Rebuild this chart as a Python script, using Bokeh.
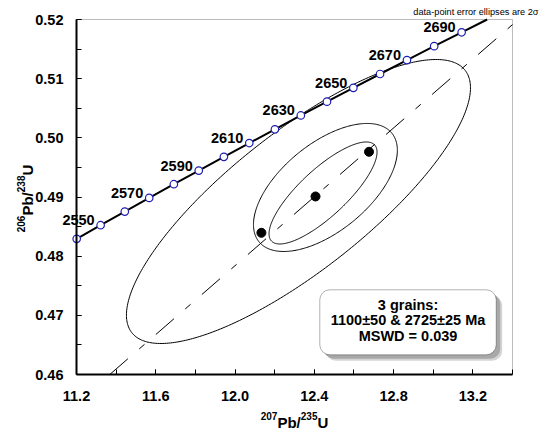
import numpy as np
from bokeh.plotting import figure
from bokeh.models import (FixedTicker, PrintfTickFormatter, Label, LabelSet,
                          ColumnDataSource, BoxAnnotation, Range1d)
from bokeh.core.properties import value
from bokeh.embed import file_html
from bokeh.resources import INLINE

# ---------------- data ----------------
# concordia points (age in Ma, 207Pb/235U, 206Pb/238U)
conc_age = [2540, 2550, 2560, 2570, 2580, 2590, 2600, 2610, 2620,
            2630, 2640, 2650, 2660, 2670, 2680, 2690, 2700]
conc_x = [11.2010, 11.3218, 11.4437, 11.5669, 11.6913, 11.8169, 11.9437,
          12.0718, 12.2012, 12.3319, 12.4638, 12.5970, 12.7316, 12.8675,
          13.0048, 13.1434, 13.2834]
conc_y = [0.48293, 0.48523, 0.48753, 0.48984, 0.49216, 0.49447, 0.49679,
          0.49912, 0.50144, 0.50378, 0.50611, 0.50845, 0.51079, 0.51314,
          0.51549, 0.51784, 0.52019]
label_ages = [2550, 2570, 2590, 2610, 2630, 2650, 2670, 2690]

# discordia through the two intercepts (1100 and 2725 Ma)
disc_age = [1100, 2725]
disc_x = [1.95452, 13.63939]
disc_y = [0.186061, 0.526101]

# grain error ellipses (2 sigma): centre, half-widths, correlation
ell_x = [12.320, 12.456, 12.444]
ell_sx = [0.868, 0.363, 0.2725]
ell_y = [0.48924, 0.49161, 0.49068]
ell_sy = [0.0240, 0.01082, 0.00862]
ell_rho = [0.80, 0.58, 0.80]

# filled data points
pt_x = [12.133, 12.406, 12.676]
pt_y = [0.48395, 0.49009, 0.49764]

# axes
X0, X1, Y0, Y1 = 11.2, 13.4, 0.46, 0.52
x_ticks = [11.2, 11.6, 12.0, 12.4, 12.8, 13.2]
x_minor = [11.2, 11.4, 11.6, 11.8, 12.0, 12.2, 12.4, 12.6, 12.8, 13.0, 13.2, 13.4]
y_ticks = [0.46, 0.47, 0.48, 0.49, 0.50, 0.51, 0.52]
y_minor = [0.46, 0.465, 0.47, 0.475, 0.48, 0.485, 0.49, 0.495, 0.50,
           0.505, 0.51, 0.515, 0.52]

x_title = [("207", True), ("Pb/", False), ("235", True), ("U", False)]
y_title = [("206", True), ("Pb/", False), ("238", True), ("U", False)]
box_lines = ["3 grains:", "1100\u00b150 & 2725\u00b125 Ma", "MSWD = 0.039"]
note_text = "data-point error ellipses are 2\u03c3"

# ---------------- layout (pixels) ----------------
W, H = 539, 431
FL, FT, FR, FB = 76, 19, 512, 374          # plot box inside the canvas
FONT = "Liberation Sans"
BSHIFT = 0.32                               # label baseline correction (em)
SXP = (FR - FL) / (X1 - X0)
SYP = (FB - FT) / (Y1 - Y0)
xr = Range1d(X0 - FL / SXP, X1 + (W - FR) / SXP)
yr = Range1d(Y0 - (H - FB) / SYP, Y1 + FT / SYP)


def dx(px):
    return xr.start + px / SXP


def dy(py):
    return yr.end - py / SYP


p = figure(width=W, height=H, x_range=xr, y_range=yr,
           output_backend="svg", toolbar_location=None, min_border=0)
p.title.visible = False
p.xgrid.grid_line_color = None
p.ygrid.grid_line_color = None
p.outline_line_color = None
p.background_fill_color = "white"
p.border_fill_color = "white"

for ax in (p.xaxis[0], p.yaxis[0]):
    ax.axis_line_width = 2
    ax.axis_line_color = "black"
    ax.major_tick_in = 5
    ax.major_tick_out = 0
    ax.minor_tick_in = 5
    ax.minor_tick_out = 0
    ax.major_tick_line_color = "black"
    ax.minor_tick_line_color = "black"
    ax.major_label_text_font = FONT
    ax.major_label_text_font_style = "bold"
    ax.major_label_text_font_size = "14.5px"
    ax.major_label_text_color = "black"

p.xaxis.ticker = FixedTicker(ticks=x_ticks, minor_ticks=x_minor)
p.yaxis.ticker = FixedTicker(ticks=y_ticks, minor_ticks=y_minor)
p.xaxis.formatter = PrintfTickFormatter(format="%.1f")
p.yaxis.formatter = PrintfTickFormatter(format="%.2f")
p.xaxis.major_label_standoff = 16
p.yaxis.major_label_standoff = 13
p.xaxis.fixed_location = Y0
p.yaxis.fixed_location = X0
p.xaxis.bounds = (X0, X1)
p.yaxis.bounds = (Y0, Y1)

# plot box border (top / right)
p.add_layout(BoxAnnotation(left=X0, right=X1, bottom=Y0, top=Y1, fill_color=None,
                           line_color="#222222", line_width=1, level="underlay"))

# ellipses
t = np.linspace(0, 2 * np.pi, 361)
for cx, sx, cy, sy, r in zip(ell_x, ell_sx, ell_y, ell_sy, ell_rho):
    ex = cx + sx * np.cos(t)
    ey = cy + sy * (r * np.cos(t) + np.sqrt(1 - r * r) * np.sin(t))
    p.line(ex, ey, line_color="black", line_width=1)

# discordia (clipped to the plot box)
dsx = np.array(disc_x)
dsy = np.array(disc_y)
slope = (dsy[1] - dsy[0]) / (dsx[1] - dsx[0])
xa = max(X0, dsx[0] + (Y0 - dsy[0]) / slope)
xb = min(X1, dsx[0] + (Y1 - dsy[0]) / slope)
p.line([xa, xb], [dsy[0] + slope * (xa - dsx[0]), dsy[0] + slope * (xb - dsx[0])],
       line_color="black", line_width=1, line_dash="24 15 7 15")

# concordia (clipped at the top of the plot box)
cxs = np.array(conc_x)
cys = np.array(conc_y)
inside = cys <= Y1
k = np.argmax(~inside)
x_top = cxs[k - 1] + (Y1 - cys[k - 1]) * (cxs[k] - cxs[k - 1]) / (cys[k] - cys[k - 1])
p.line(list(cxs[inside]) + [x_top], list(cys[inside]) + [Y1],
       line_color="black", line_width=2)
p.scatter(cxs[inside], cys[inside], size=7.5, marker="circle", fill_color="white",
          line_color="#1e1eb4", line_width=1.2)

# data points
p.scatter(pt_x, pt_y, size=9, marker="circle", fill_color="black", line_color="black")

# age labels
lab_x = [x for a, x in zip(conc_age, conc_x) if a in label_ages]
lab_y = [y for a, y in zip(conc_age, conc_y) if a in label_ages]
src = ColumnDataSource(dict(x=lab_x, y=lab_y, t=[str(a) for a in label_ages]))
p.add_layout(LabelSet(x="x", y="y", text="t", source=src, x_offset=-6, y_offset=0,
                      text_align="right", text_baseline="alphabetic",
                      text_font=value(FONT), text_font_style="bold",
                      text_font_size="14.5px", text_color="black"))

# result box with shadow
bl, br, bt, bb = 319.3, 495.7, 289.3, 354.3
p.add_layout(BoxAnnotation(left=dx(bl + 6), right=dx(br + 6), top=dy(bt + 6),
                           bottom=dy(bb + 6), fill_color="#d4d4d4", fill_alpha=1,
                           line_color=None, border_radius=10))
p.add_layout(BoxAnnotation(left=dx(bl + 4), right=dx(br + 4), top=dy(bt + 4),
                           bottom=dy(bb + 4), fill_color="#a8a8a8", fill_alpha=1,
                           line_color=None, border_radius=10))
p.add_layout(BoxAnnotation(left=dx(bl), right=dx(br), top=dy(bt), bottom=dy(bb),
                           fill_color="white", fill_alpha=1, line_color="black",
                           line_width=1, border_radius=10))
for txt, base in zip(box_lines, [309, 324.5, 340]):
    p.add_layout(Label(x=dx(407.5), y=dy(base - BSHIFT * 14.5), text=txt,
                       text_align="center", text_baseline="alphabetic", text_font=FONT,
                       text_font_style="bold", text_font_size="14.5px",
                       text_color="black"))

# note
p.add_layout(Label(x=dx(538), y=dy(14 - BSHIFT * 9.2), text=note_text, text_align="right",
                   text_baseline="alphabetic", text_font=FONT,
                   text_font_size="9.2px", text_color="black"))

# axis titles built from pieces (with superscripts)
MAIN, SUP = 15, 10
adv = {"P": 0.667, "b": 0.611, "/": 0.278, "U": 0.722}


def width_of(s, size):
    return sum(adv.get(c, 0.556) for c in s) * size


total = sum(width_of(s, SUP if sup else MAIN) for s, sup in x_title)
cur = (FL + FR) / 2 - total / 2
for s, sup in x_title:
    size = SUP if sup else MAIN
    base = 419 if sup else 426.5
    p.add_layout(Label(x=dx(cur), y=dy(base - BSHIFT * size), text=s,
                       text_align="left", text_baseline="alphabetic",
                       text_font=FONT, text_font_style="bold",
                       text_font_size=f"{size}px", text_color="black"))
    cur += width_of(s, size)

total = sum(width_of(s, SUP if sup else MAIN) for s, sup in y_title)
cur = 198 + total / 2
for s, sup in y_title:
    size = SUP if sup else MAIN
    base = 24 if sup else 31.5
    p.add_layout(Label(x=dx(base - BSHIFT * size), y=dy(cur), text=s, angle=np.pi / 2,
                       text_align="left", text_baseline="alphabetic",
                       text_font=FONT, text_font_style="bold",
                       text_font_size=f"{size}px", text_color="black"))
    cur -= width_of(s, size)

open("out.html", "w").write(file_html(p, INLINE))
